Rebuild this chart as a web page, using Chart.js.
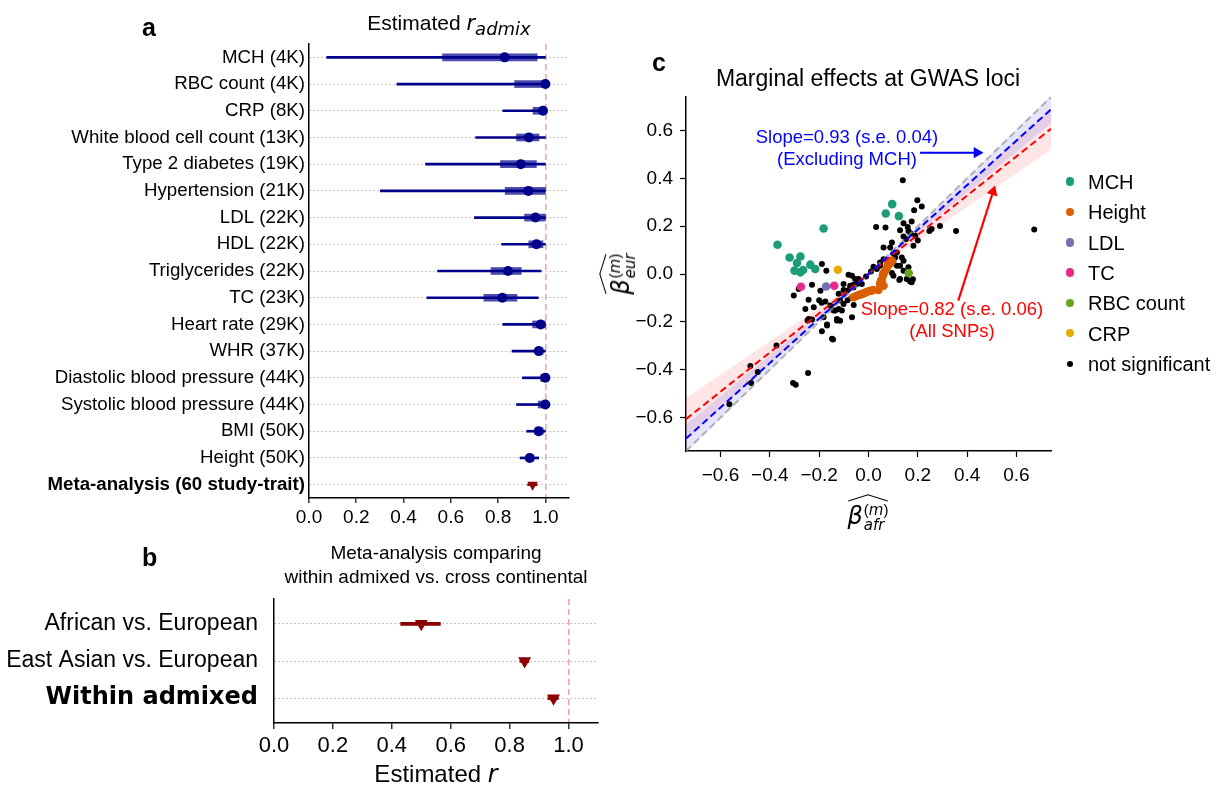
<!DOCTYPE html>
<html>
<head>
<meta charset="utf-8">
<title>Estimated r_admix</title>
<script src="https://cdn.jsdelivr.net/npm/chart.js@4.4.1/dist/chart.umd.min.js"></script>
<style>
  html, body { margin: 0; padding: 0; background: #fff; }
  body { font-family: 'Liberation Sans', Arial, sans-serif; color: #000; }
  #page { position: relative; width: 1231px; height: 791px; overflow: hidden; }
  canvas { position: absolute; }
  .t { position: absolute; white-space: nowrap; line-height: 1; }
  .letter { font-size: 25px; font-weight: bold; }
  .mid { transform: translateX(-50%); text-align: center; }
  .m { font-family: 'DejaVu Sans', sans-serif; font-style: italic; }
  .ss { display: inline-flex; flex-direction: column; vertical-align: middle; font-size: 15px; line-height: 1.0; margin-left: 1px; }
  .hatbox { position: relative; display: inline-block; padding-top: 9px; }
  .hatbox svg { position: absolute; left: 0; top: 0; width: 100%; height: 9px; }
  .legrow { position: absolute; white-space: nowrap; font-size: 20px; line-height: 20px; }
  .dot { position: absolute; border-radius: 50%; }
</style>
</head>
<body>
<div id="page">
  <canvas id="chartA" width="600" height="540" style="left:0;top:0"></canvas>
  <canvas id="chartB" width="610" height="251" style="left:0;top:540px"></canvas>
  <canvas id="chartC" width="631" height="540" style="left:600px;top:0"></canvas>

  <div class="t letter" style="left:142px;top:15px">a</div>
  <div class="t mid" style="left:449px;top:12px;font-size:21px">Estimated <span class="m">r</span><sub class="m" style="font-size:18px">admix</sub></div>

  <div class="t letter" style="left:142px;top:545px">b</div>
  <div class="t mid" style="left:436px;top:541px;font-size:19px;line-height:24px">Meta-analysis comparing<br>within admixed vs. cross continental</div>
  <div class="t mid" style="left:436px;top:762px;font-size:24px">Estimated <span class="m">r</span></div>

  <div class="t letter" style="left:652px;top:50px">c</div>
  <div class="t mid" style="left:868px;top:67px;font-size:23px">Marginal effects at GWAS loci</div>

  <div class="t mid" style="left:847px;top:126px;font-size:18.5px;line-height:22px;color:#0000ff">Slope=0.93 (s.e. 0.04)<br>(Excluding MCH)</div>
  <div class="t mid" style="left:952px;top:298px;font-size:18.5px;line-height:22px;color:#ff0000">Slope=0.82 (s.e. 0.06)<br>(All SNPs)</div>

  <div class="t" style="left:868px;top:493px;transform:translateX(-50%);font-size:24px">
    <span class="hatbox"><svg viewBox="0 0 100 10" preserveAspectRatio="none"><polyline points="2,9 50,2 98,9" fill="none" stroke="#000" stroke-width="1.1" vector-effect="non-scaling-stroke"/></svg><span class="m">β</span><span class="ss"><span>(<span class="m">m</span>)</span><span class="m">afr</span></span></span>
  </div>
  <div class="t" style="left:618px;top:274px;transform:translate(-50%,-50%) rotate(-90deg);font-size:24px">
    <span class="hatbox"><svg viewBox="0 0 100 10" preserveAspectRatio="none"><polyline points="2,9 50,2 98,9" fill="none" stroke="#000" stroke-width="1.1" vector-effect="non-scaling-stroke"/></svg><span class="m">β</span><span class="ss"><span>(<span class="m">m</span>)</span><span class="m">eur</span></span></span>
  </div>

  <div id="legendC"></div>
</div>

<script>
// panel a: estimated r_admix per trait (outer interval = thin line, inner = thick line)
const traits = ['MCH (4K)', 'RBC count (4K)', 'CRP (8K)', 'White blood cell count (13K)',
  'Type 2 diabetes (19K)', 'Hypertension (21K)', 'LDL (22K)', 'HDL (22K)', 'Triglycerides (22K)',
  'TC (23K)', 'Heart rate (29K)', 'WHR (37K)', 'Diastolic blood pressure (44K)',
  'Systolic blood pressure (44K)', 'BMI (50K)', 'Height (50K)', 'Meta-analysis (60 study-trait)'];
const rEstimate = [0.828, 1.0, 0.99, 0.93, 0.896, 0.928, 0.958, 0.962, 0.842, 0.818, 0.98, 0.972, 1.0, 1.0, 0.972, 0.934, 0.946];
const outerLow  = [0.075, 0.372, 0.82, 0.705, 0.493, 0.302, 0.70, 0.815, 0.544, 0.499, 0.82, 0.859, 0.903, 0.878, 0.921, 0.893, 0.925];
const outerHigh = [1.0, 1.0, 1.0, 1.0, 1.0, 1.0, 1.0, 1.0, 0.982, 0.97, 1.0, 1.0, 1.0, 1.0, 1.0, 0.972, 0.965];
const innerLow  = [0.565, 0.87, 0.948, 0.878, 0.81, 0.83, 0.912, 0.93, 0.77, 0.74, 0.946, 0.958, 0.98, 0.97, 0.955, 0.92, null];
const innerHigh = [0.965, 1.0, 0.99, 0.973, 0.962, 1.0, 1.0, 0.99, 0.898, 0.88, 1.0, 0.99, 1.0, 1.0, 0.99, 0.95, null];

// panel b: meta-analysis comparisons
const comparisons = ['African vs. European', 'East Asian vs. European', 'Within admixed'];
const compEstimate = [0.50, 0.851, 0.949];
const compLow = [0.43, 0.835, 0.93];
const compHigh = [0.565, 0.865, 0.965];

// panel c: marginal effects [afr, eur]
const groupNames = ['MCH', 'Height', 'LDL', 'TC', 'RBC count', 'CRP', 'not significant'];
const mchPts = [[-0.369, 0.122], [-0.182, 0.19], [-0.32, 0.069], [-0.276, 0.073], [-0.29, 0.046], [-0.236, 0.039],
  [-0.216, 0.021], [-0.3, 0.014], [-0.276, 0.007], [-0.265, 0.017], [0.096, 0.292], [0.07, 0.253], [0.123, 0.242]];
const heightPts = [[-0.061, -0.097], [-0.05, -0.092], [-0.04, -0.088], [-0.03, -0.085], [-0.02, -0.081], [-0.01, -0.076],
  [0.0, -0.072], [0.01, -0.07], [0.018, -0.067], [0.04, -0.067], [0.047, -0.042], [0.061, -0.049], [0.05, -0.03],
  [0.054, -0.025], [0.058, -0.007], [0.06, 0.0], [0.064, 0.007], [0.072, 0.021], [0.078, 0.035], [0.081, 0.042],
  [0.088, 0.044], [0.095, 0.055]];
const ldlPts = [[-0.172, -0.052]];
const tcPts = [[-0.274, -0.053], [-0.139, -0.049]];
const rbcPts = [[0.163, 0.004]];
const crpPts = [[-0.124, 0.018]];
const nsPts = [
  [0.139, 0.392], [0.198, 0.308], [0.216, 0.282], [0.185, 0.267], [0.031, 0.197], [0.069, 0.194], [0.142, 0.212],
  [0.175, 0.219], [0.159, 0.197], [0.128, 0.183], [0.162, 0.18], [0.142, 0.157], [0.152, 0.146], [0.17, 0.17],
  [0.19, 0.16], [0.2, 0.14], [0.182, 0.118], [0.247, 0.18], [0.256, 0.188], [0.29, 0.201], [0.355, 0.18],
  [0.672, 0.186], [0.095, 0.132], [0.088, 0.111], [0.061, 0.111], [0.101, 0.087], [0.115, 0.09], [0.061, 0.062],
  [0.047, 0.048], [0.108, 0.069], [0.135, 0.069], [0.142, 0.055], [0.101, 0.055], [0.128, 0.035], [0.115, 0.035],
  [0.162, 0.028], [0.142, 0.014], [0.095, 0.004], [0.101, -0.007], [0.047, 0.035], [0.034, 0.021], [0.125, -0.025],
  [0.128, -0.021], [0.155, -0.021], [0.169, -0.031], [0.18, -0.022], [0.175, -0.035],
  [0.02, 0.03], [0.01, 0.01], [-0.01, -0.01], [-0.027, -0.042], [-0.04, -0.021], [-0.047, -0.042], [-0.054, -0.021],
  [-0.061, -0.045], [-0.061, -0.056], [-0.067, -0.007], [-0.074, -0.049], [-0.074, -0.056], [-0.081, -0.003],
  [-0.087, -0.07], [-0.101, -0.042], [-0.101, -0.067], [-0.121, -0.083], [-0.101, -0.125], [-0.115, -0.111],
  [-0.135, -0.153], [-0.108, -0.153], [-0.115, -0.195], [-0.07, -0.1], [-0.06, -0.13], [-0.085, -0.11],
  [-0.189, 0.042], [-0.171, 0.014], [-0.229, -0.045], [-0.283, -0.063], [-0.195, -0.07], [-0.303, -0.09],
  [-0.243, -0.108], [-0.2, -0.11], [-0.19, -0.12], [-0.175, -0.115], [-0.155, -0.132], [-0.256, -0.146],
  [-0.222, -0.139], [-0.142, -0.153], [-0.121, -0.146], [-0.243, -0.188], [-0.229, -0.19], [-0.182, -0.181],
  [-0.128, -0.188], [-0.168, -0.215], [-0.189, -0.239], [-0.148, -0.271], [-0.067, -0.181], [-0.168, -0.211],
  [-0.128, -0.194], [-0.247, -0.194], [-0.144, -0.274],
  [-0.373, -0.299], [-0.479, -0.385], [-0.449, -0.41], [-0.476, -0.456], [-0.306, -0.456], [-0.295, -0.463],
  [-0.245, -0.414], [-0.564, -0.545]];
const slopeAll = 0.82, seAll = 0.06;
const slopeNoMch = 0.93, seNoMch = 0.04;
const limC = 0.74;

// styles
const NAVY = '#00008b';
const DARKRED = '#8b0000';
const REFLINE = '#f6a3a8';
const groupColors = ['#1b9e77', '#d95f02', '#7570b3', '#e7298a', '#66a61e', '#e6ab02', '#000000'];
const groupPts = [mchPts, heightPts, ldlPts, tcPts, rbcPts, crpPts, nsPts];

Chart.defaults.font.family = "'Liberation Sans', Arial, sans-serif";
Chart.defaults.color = '#000';
Chart.defaults.animation = false;
Chart.defaults.plugins.legend.display = false;
Chart.defaults.plugins.tooltip.enabled = false;

const fmt1 = v => (v < 0 ? '\u2212' : '') + Math.abs(v).toFixed(1);
const isOne = c => Math.abs(c.tick.value - 1) < 1e-6;

// ---- panel a
const lastRow = traits.length - 1;
const rowColor = traits.map((t, i) => i === lastRow ? DARKRED : NAVY);

new Chart(document.getElementById('chartA'), {
  type: 'bar',
  data: {
    labels: traits,
    datasets: [
      {
        type: 'line', indexAxis: 'y', data: rEstimate, showLine: false,
        pointStyle: traits.map((t, i) => i === lastRow ? 'triangle' : 'circle'),
        pointRotation: traits.map((t, i) => i === lastRow ? 180 : 0),
        pointRadius: traits.map((t, i) => i === lastRow ? 6 : 5),
        pointBackgroundColor: rowColor, pointBorderWidth: 0
      },
      {
        data: traits.map((t, i) => innerLow[i] == null ? null : [innerLow[i], innerHigh[i]]),
        backgroundColor: 'rgba(0,0,139,0.7)', barThickness: 7, grouped: false
      },
      {
        data: traits.map((t, i) => [outerLow[i], outerHigh[i]]),
        backgroundColor: rowColor, barThickness: 2, grouped: false
      }
    ]
  },
  options: {
    responsive: false,
    indexAxis: 'y',
    layout: { padding: { top: 44, right: 31, left: 0, bottom: 0 } },
    scales: {
      x: {
        type: 'linear', min: 0, max: 1.1,
        afterFit: s => { s.height = 42; },
        ticks: { stepSize: 0.2, includeBounds: false, callback: fmt1, font: { size: 19, lineHeight: 1 }, padding: 5 },
        grid: { color: c => isOne(c) ? REFLINE : 'rgba(0,0,0,0)', lineWidth: 1.6, tickColor: '#000', tickLength: 5, tickWidth: 1.2 },
        border: { color: '#000', width: 1.5, dash: [6, 4] }
      },
      y: {
        type: 'category', offset: true,
        afterFit: s => { s.width = 309; },
        ticks: { autoSkip: false, padding: 4, font: c => ({ size: 18.7, weight: c.index === lastRow ? 'bold' : 'normal' }) },
        grid: { offset: false, color: '#b4b4b4', lineWidth: 1, drawTicks: false },
        border: { color: '#000', width: 1.5, dash: [1.5, 2.5] }
      }
    }
  }
});

// ---- panel b
new Chart(document.getElementById('chartB'), {
  type: 'bar',
  data: {
    datasets: [
      {
        type: 'line', indexAxis: 'y', showLine: false,
        data: comparisons.map((c, i) => ({ x: compEstimate[i], y: i })),
        pointStyle: 'triangle', pointRotation: 180, pointRadius: 7.5,
        pointBackgroundColor: DARKRED, pointBorderWidth: 0
      },
      {
        data: comparisons.map((c, i) => ({ y: i, x: [compLow[i], compHigh[i]] })),
        backgroundColor: DARKRED, barThickness: 3, grouped: false
      }
    ]
  },
  options: {
    responsive: false,
    indexAxis: 'y',
    layout: { padding: { top: 59, right: 12, left: 0, bottom: 0 } },
    scales: {
      x: {
        type: 'linear', min: 0, max: 1.1,
        afterFit: s => { s.height = 68; },
        ticks: { stepSize: 0.2, includeBounds: false, callback: fmt1, font: { size: 22, lineHeight: 1 }, padding: 6 },
        grid: { color: c => isOne(c) ? REFLINE : 'rgba(0,0,0,0)', lineWidth: 1.6, tickColor: '#000', tickLength: 6, tickWidth: 1.2 },
        border: { color: '#000', width: 1.5, dash: [6, 4] }
      },
      y: {
        type: 'linear', min: -0.67, max: 2.67, reverse: true, offset: false,
        afterFit: s => { s.width = 274; },
        afterBuildTicks: s => { s.ticks = comparisons.map((c, i) => ({ value: i })); },
        ticks: { autoSkip: false, padding: 16, callback: v => comparisons[v],
          font: c => c.index === comparisons.length - 1
            ? { size: 24, weight: 'bold', family: "'DejaVu Sans', sans-serif" }
            : { size: 23, weight: 'normal' } },
        grid: { offset: false, color: '#b4b4b4', lineWidth: 1, drawTicks: false },
        border: { color: '#000', width: 1.5, dash: [1.5, 2.5] }
      }
    }
  }
});

// ---- panel c
const fitLine = slope => [-limC, 0, limC].map(x => ({ x: x, y: slope * x }));
const dashed = (slope, color) => ({
  type: 'line', data: fitLine(slope), borderColor: color, borderWidth: 2, borderDash: [7, 4],
  pointRadius: 0, fill: false
});
const band = (slope, se, color) => [
  { type: 'line', data: fitLine(slope + 1.96 * se), borderWidth: 0, pointRadius: 0, fill: '+1', backgroundColor: color },
  { type: 'line', data: fitLine(slope - 1.96 * se), borderWidth: 0, pointRadius: 0, fill: false }
];
const arrow = (from, to, rot, color) => ({
  type: 'line', data: [{ x: from[0], y: from[1] }, { x: to[0], y: to[1] }], borderColor: color, borderWidth: 2.2,
  pointRadius: [0, 6.5], pointStyle: 'triangle', pointRotation: rot, pointBackgroundColor: color, pointBorderWidth: 0, fill: false
});

const pointSets = groupNames.map((name, i) => ({
  type: 'scatter', label: name,
  data: groupPts[i].map(p => ({ x: p[0], y: p[1] })),
  pointRadius: i === groupNames.length - 1 ? 3 : 4.3,
  pointBackgroundColor: groupColors[i], pointBorderWidth: 0
}));

new Chart(document.getElementById('chartC'), {
  type: 'scatter',
  data: {
    datasets: [
      dashed(slopeNoMch, '#0000ff'),
      dashed(slopeAll, '#ff0000'),
      dashed(1, 'rgba(150,150,150,0.7)'),
      arrow([0.209, 0.507], [0.44, 0.507], 90, '#0000ff'),
      arrow([0.364, -0.111], [0.505, 0.344], 18, '#ff0000'),
      ...pointSets,
      ...band(slopeNoMch, seNoMch, 'rgba(0,0,255,0.1)'),
      ...band(slopeAll, seAll, 'rgba(255,0,0,0.1)')
    ]
  },
  options: {
    responsive: false,
    layout: { padding: { top: 97, right: 180, left: 0, bottom: 0 } },
    scales: {
      x: {
        type: 'linear', min: -limC, max: limC,
        afterFit: s => { s.height = 89; },
        ticks: { stepSize: 0.2, includeBounds: false, callback: fmt1, font: { size: 19, lineHeight: 1 }, padding: 9 },
        grid: { drawOnChartArea: false, tickColor: '#000', tickLength: 6, tickWidth: 1.2 },
        border: { color: '#000', width: 1.5 }
      },
      y: {
        type: 'linear', min: -limC, max: limC,
        afterFit: s => { s.width = 86; },
        ticks: { stepSize: 0.2, includeBounds: false, callback: fmt1, font: { size: 19 }, padding: 7 },
        grid: { drawOnChartArea: false, tickColor: '#000', tickLength: 6, tickWidth: 1.2 },
        border: { color: '#000', width: 1.5 }
      }
    }
  }
});

// legend for panel c
const legendBox = document.getElementById('legendC');
groupNames.forEach((name, i) => {
  const cy = 181.7 + i * 30.3;
  const d = i === groupNames.length - 1 ? 6 : 8.5;
  const dot = document.createElement('div');
  dot.className = 'dot';
  dot.style.cssText = `left:${1070 - d / 2}px;top:${cy - d / 2}px;width:${d}px;height:${d}px;background:${groupColors[i]}`;
  legendBox.appendChild(dot);
  const row = document.createElement('div');
  row.className = 'legrow';
  row.style.left = '1088px';
  row.style.top = (cy - 9.7) + 'px';
  row.textContent = name;
  legendBox.appendChild(row);
});
</script>
</body>
</html>
